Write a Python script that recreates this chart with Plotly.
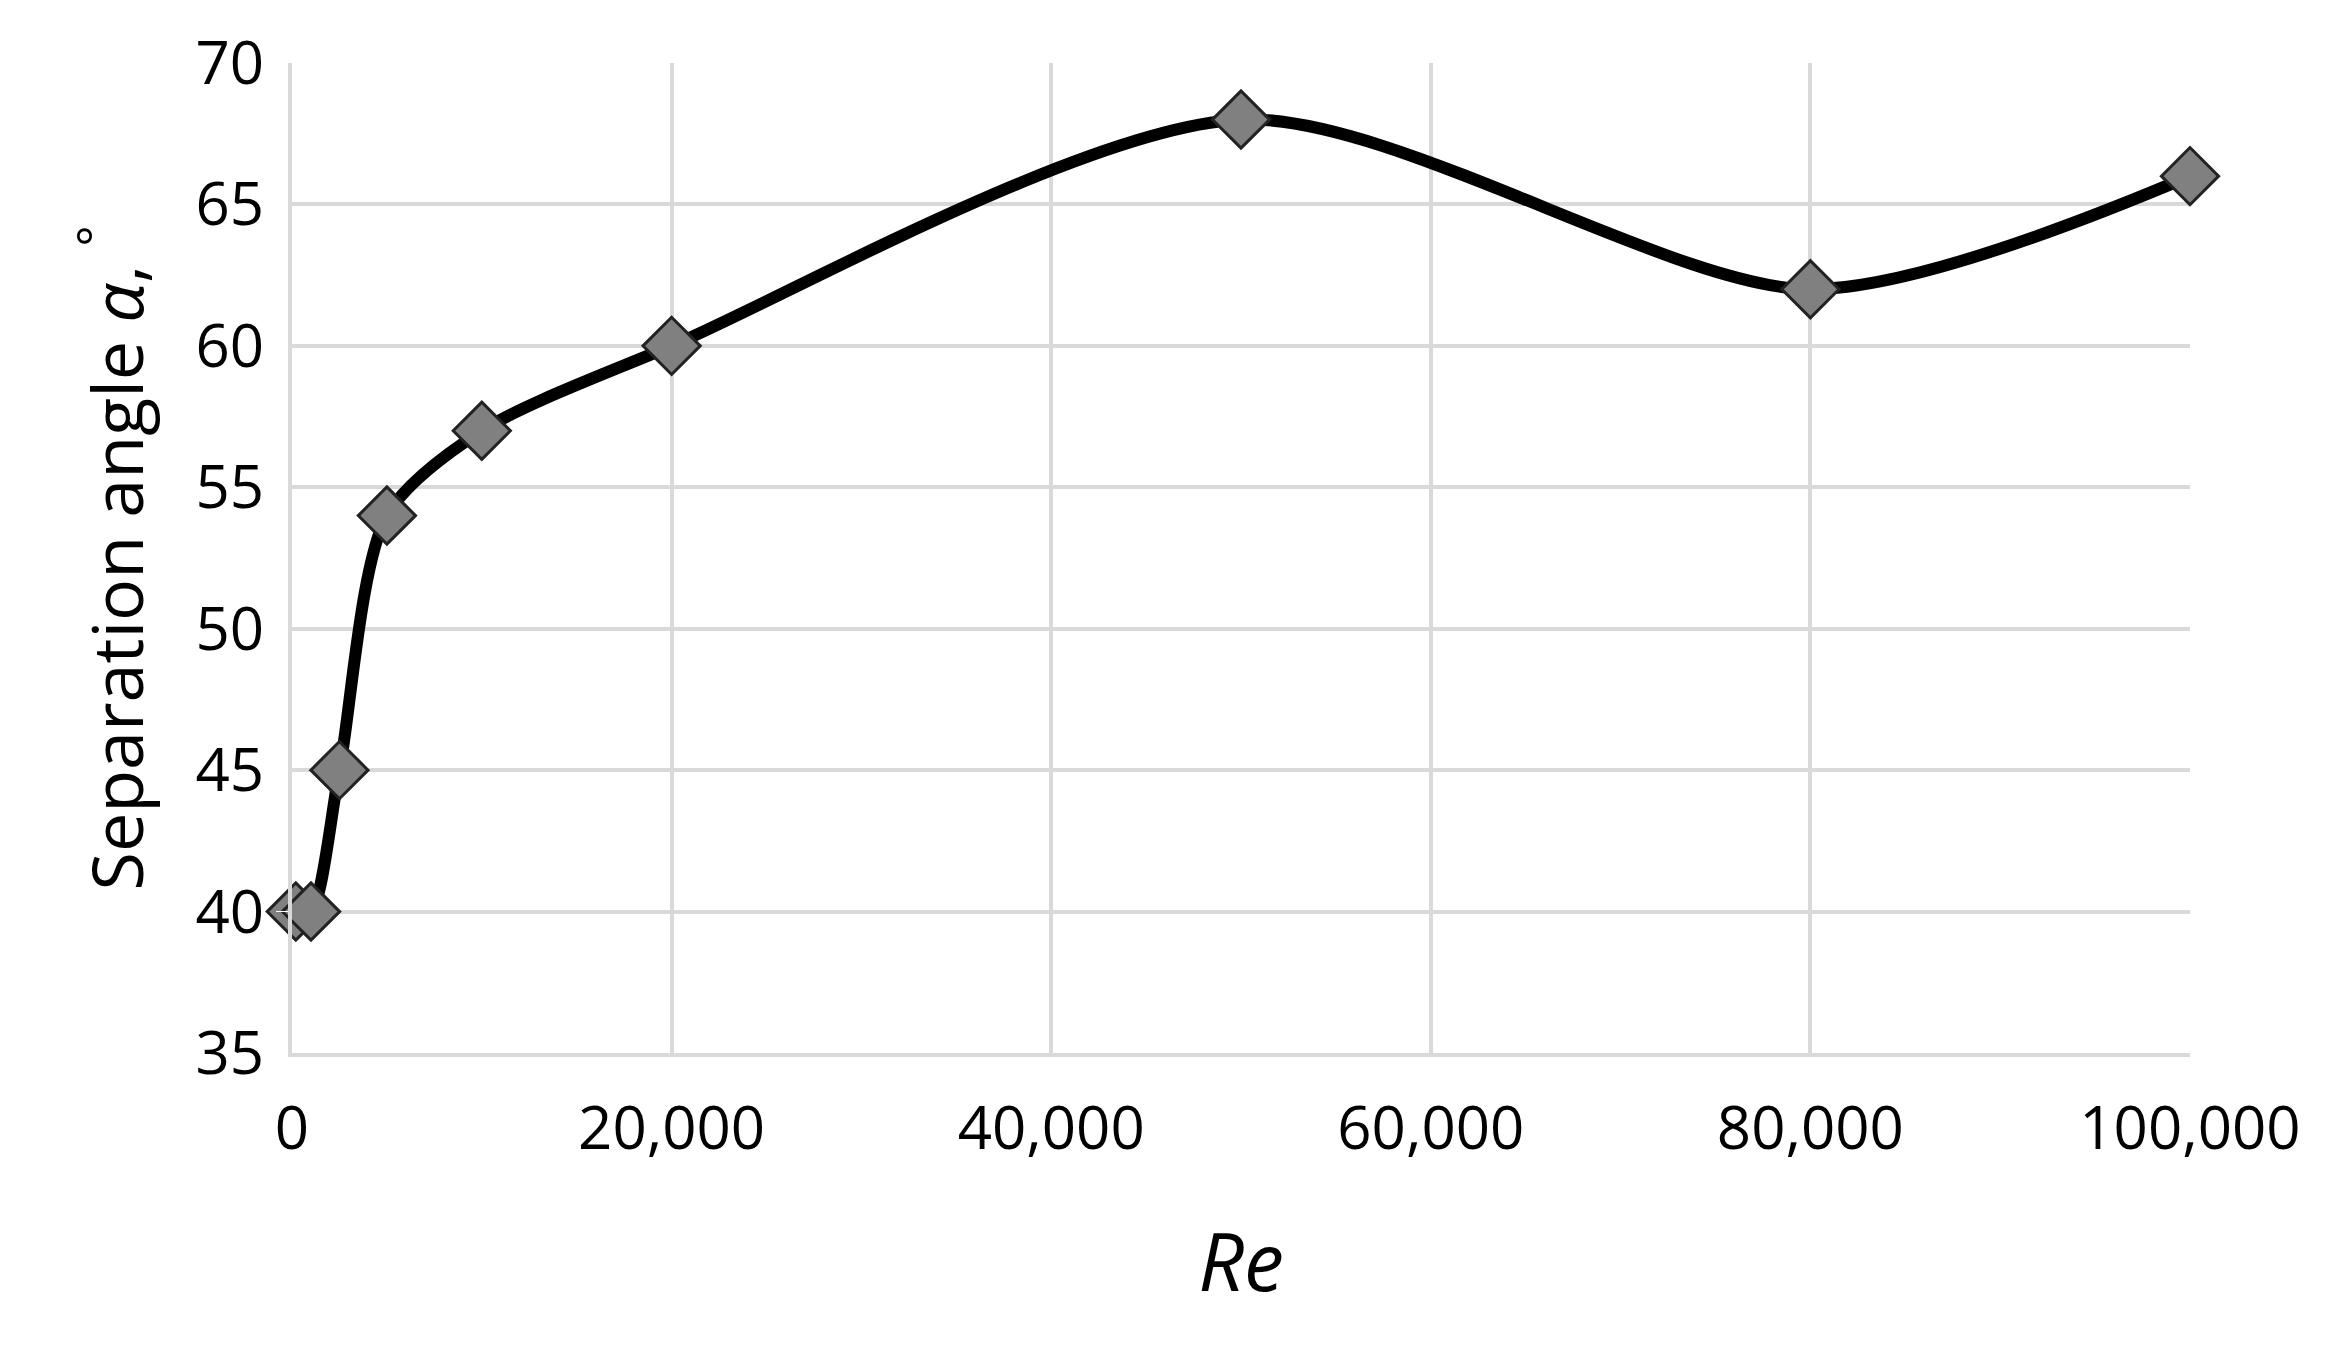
import plotly.graph_objects as go

re_vals = [200, 1000, 2500, 5000, 10000, 20000, 50000, 80000, 100000]
angles = [40, 40, 45, 54, 57, 60, 68, 62, 66]
x_ticks = [0, 20000, 40000, 60000, 80000, 100000]
x_labels = ["0", "20,000", "40,000", "60,000", "80,000", "100,000"]

fig = go.Figure(go.Scatter(
    x=re_vals, y=angles, mode="lines+markers", cliponaxis=False,
    line=dict(color="black", width=12, shape="spline", smoothing=0.8),
    marker=dict(symbol="diamond", size=44, color="#808080",
                line=dict(color="#222222", width=3)),
))
font = dict(family="Open Sans, Liberation Sans, sans-serif", size=60, color="black")
fig.update_layout(
    width=2337, height=1355, plot_bgcolor="white", paper_bgcolor="white",
    margin=dict(l=284, r=155, t=45, b=310), showlegend=False, font=font,
    xaxis=dict(range=[0, 100000], tickvals=x_ticks, ticktext=x_labels,
               showgrid=True, gridcolor="#d9d9d9", gridwidth=4, zeroline=False,
               showline=True, linecolor="#d9d9d9", linewidth=4, ticks="outside",
               ticklen=20, tickcolor="white",
               title=dict(text="<i>Re</i>", font=dict(size=80), standoff=70)),
    yaxis=dict(range=[35, 70], dtick=5, showgrid=True, gridcolor="#d9d9d9", gridwidth=4,
               zeroline=False, showline=True, linecolor="#d9d9d9", linewidth=4,
               ticks="outside", ticklen=12, tickcolor="white",
               title=dict(text="Separation angle <i>α</i>, <sup>°</sup>", font=dict(size=70), standoff=30)),
)
fig.write_html("out.html")
